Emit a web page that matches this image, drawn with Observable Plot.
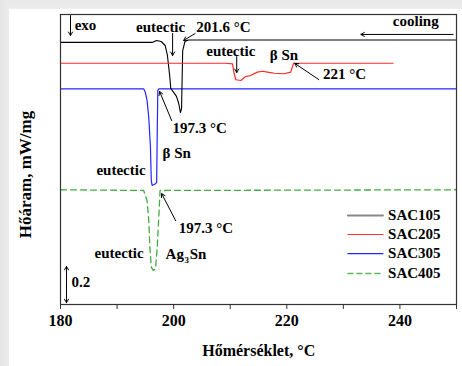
<!DOCTYPE html>
<html>
<head>
<meta charset="utf-8">
<script src="https://cdn.jsdelivr.net/npm/d3@7"></script>
<script src="https://cdn.jsdelivr.net/npm/@observablehq/plot@0.6"></script>
<style>
  html, body { margin: 0; padding: 0; width: 462px; height: 366px; overflow: hidden; }
  body {
    background:
      linear-gradient(to right, #e4e4e4 0, #ececec 9px, transparent 9px),
      linear-gradient(to bottom, #e8e8e8 0, #eeeeee 9px, #ffffff 9px);
  }
  #chart svg { display: block; }
</style>
</head>
<body>
<div id="chart"></div>
<script>
// Temperatures (°C) and heat flow (mW/mg, offset per curve)
const t105 = [180, 196.2, 197.0, 197.8, 198.5, 198.9, 199.3, 199.5, 200.0, 200.5, 200.9, 201.2, 201.4, 201.6, 202.0, 202.6, 250];
const q105 = [1.446, 1.446, 1.457, 1.451, 1.429, 1.374, 1.263, 1.192, 1.170, 1.148, 1.109, 1.059, 1.081, 1.401, 1.451, 1.459, 1.459];

const t205 = [180, 209.2, 210.4, 210.7, 211.0, 211.9, 212.7, 213.6, 214.8, 215.7, 216.6, 217.8, 219.5, 220.7, 221.2, 238.8];
const q205 = [1.331, 1.331, 1.328, 1.273, 1.240, 1.236, 1.258, 1.263, 1.282, 1.287, 1.282, 1.276, 1.273, 1.282, 1.331, 1.331];

const t305 = [180, 194.7, 195.0, 195.3, 195.6, 195.9, 196.05, 196.2, 196.8, 197.0, 197.1, 197.2, 197.4, 250];
const q305 = [1.190, 1.190, 1.171, 1.126, 1.033, 0.868, 0.684, 0.657, 0.666, 0.675, 0.949, 1.181, 1.190, 1.190];

const t405 = [180, 194.7, 195.3, 195.6, 195.8, 196.05, 196.4, 196.8, 197.1, 197.4, 197.6, 250];
const q405 = [0.633, 0.629, 0.574, 0.463, 0.316, 0.206, 0.188, 0.197, 0.316, 0.500, 0.629, 0.633];

const seriesNames = ["SAC105", "SAC205", "SAC305", "SAC405"];
const xTicksMajor = [180, 200, 220, 240];
const xTicksMinor = [190, 210, 230, 250];

const toRows = (t, q) => t.map((x, i) => ({t: x, q: q[i]}));
const s105 = toRows(t105, q105);
const s205 = toRows(t205, q205);
const s305 = toRows(t305, q305);
const s405 = toRows(t405, q405);

const colors = {SAC105: "black", SAC205: "#ff2a2a", SAC305: "#2424ff", SAC405: "#44aa44"};

const font = "'Liberation Serif', 'Times New Roman', serif";
const txt = {x: "t", y: "q", text: "s", fontSize: 15, fontWeight: "bold", fill: "black", fontFamily: font};

const labelsStart = [
  {t: 182.5, q: 1.539, s: "exo"},
  {t: 204.0, q: 1.528, s: "201.6 °C"},
  {t: 226.4, q: 1.269, s: "221 °C"},
  {t: 199.8, q: 0.971, s: "197.3 °C"},
  {t: 198.05, q: 0.833, s: "β Sn"},
  {t: 200.9, q: 0.419, s: "197.3 °C"},
  {t: 198.58, q: 0.276, s: "Ag"},
  {t: 202.83, q: 0.276, s: "Sn"},
  {t: 181.95, q: 0.121, s: "0.2"}
];
const labelsMiddle = [
  {t: 197.7, q: 1.528, s: "eutectic"},
  {t: 242.8, q: 1.561, s: "cooling"},
  {t: 210.1, q: 1.396, s: "eutectic"},
  {t: 219.5, q: 1.374, s: "β Sn"}
];
const labelsEnd = [
  {t: 195.04, q: 0.739, s: "eutectic"},
  {t: 194.7, q: 0.281, s: "eutectic"}
];

const arrows = [
  {t1: 181.77, q1: 1.594, t2: 181.77, q2: 1.484},
  {t1: 199.82, q1: 1.495, t2: 199.82, q2: 1.374},
  {t1: 203.8, q1: 1.495, t2: 201.77, q2: 1.457},
  {t1: 249.4, q1: 1.490, t2: 233.1, q2: 1.490},
  {t1: 211.15, q1: 1.368, t2: 211.15, q2: 1.280},
  {t1: 225.66, q1: 1.241, t2: 221.42, q2: 1.330},
  {t1: 199.65, q1: 1.015, t2: 197.52, q2: 1.175},
  {t1: 200.35, q1: 0.463, t2: 197.88, q2: 0.612},
  {t1: 181.06, q1: 0.11, t2: 181.06, q2: 0.21},
  {t1: 181.06, q1: 0.11, t2: 181.06, q2: 0.01}
];

const legendQ = [0.491, 0.386, 0.281, 0.171];
const legendRow = (i) => [{t: 230.8, q: legendQ[i]}, {t: 237.0, q: legendQ[i]}];

const chart = Plot.plot({
  width: 462,
  height: 366,
  marginLeft: 60,
  marginRight: 6,
  marginTop: 14,
  marginBottom: 62,
  style: {fontFamily: font, background: "transparent", overflow: "visible"},
  x: {domain: [180, 250]},
  y: {domain: [0, 1.6], axis: null},
  marks: [
    Plot.frame({fill: "white"}),
    Plot.line(s405, {x: "t", y: "q", stroke: colors.SAC405, strokeWidth: 1.3, strokeDasharray: "6,4"}),
    Plot.line(s305, {x: "t", y: "q", stroke: colors.SAC305, strokeWidth: 1.2}),
    Plot.line(s105, {x: "t", y: "q", stroke: colors.SAC105, strokeWidth: 1.1}),
    Plot.line(s205, {x: "t", y: "q", stroke: colors.SAC205, strokeWidth: 1.2}),
    Plot.frame({stroke: "#333", strokeWidth: 1.2}),
    Plot.axisX({ticks: xTicksMajor, tickSize: 5, tickPadding: 5, fontSize: 16, fontWeight: "bold", fontFamily: font, label: null, stroke: "#333"}),
    Plot.axisX({ticks: xTicksMinor, tickSize: 5, tickFormat: () => "", label: null, stroke: "#333"}),
    Plot.text(labelsStart, {...txt, textAnchor: "start"}),
    Plot.text(labelsMiddle, {...txt, textAnchor: "middle"}),
    Plot.text(labelsEnd, {...txt, textAnchor: "end"}),
    Plot.text([{t: 201.9, q: 0.245, s: "3"}], {...txt, fontSize: 9, textAnchor: "start"}),
    Plot.arrow(arrows, {x1: "t1", y1: "q1", x2: "t2", y2: "q2", stroke: "black", strokeWidth: 1, headLength: 6}),
    Plot.line(legendRow(0), {x: "t", y: "q", stroke: "#888888", strokeWidth: 2}),
    Plot.line(legendRow(1), {x: "t", y: "q", stroke: colors.SAC205, strokeWidth: 1}),
    Plot.line(legendRow(2), {x: "t", y: "q", stroke: colors.SAC305, strokeWidth: 1.2}),
    Plot.line(legendRow(3), {x: "t", y: "q", stroke: "#5cb85c", strokeWidth: 1.5, strokeDasharray: "5,4"}),
    Plot.text(seriesNames.map((s, i) => ({t: 237.9, q: legendQ[i], s})), {...txt, textAnchor: "start"}),
    Plot.text([{t: 215.04, q: -0.254, s: "Hőmérséklet, °C"}], {...txt, fontSize: 16}),
    Plot.text([{t: 173.8, q: 0.717, s: "Hőáram, mW/mg"}], {...txt, fontSize: 17, rotate: -90})
  ]
});
document.getElementById("chart").appendChild(chart);
</script>
</body>
</html>
